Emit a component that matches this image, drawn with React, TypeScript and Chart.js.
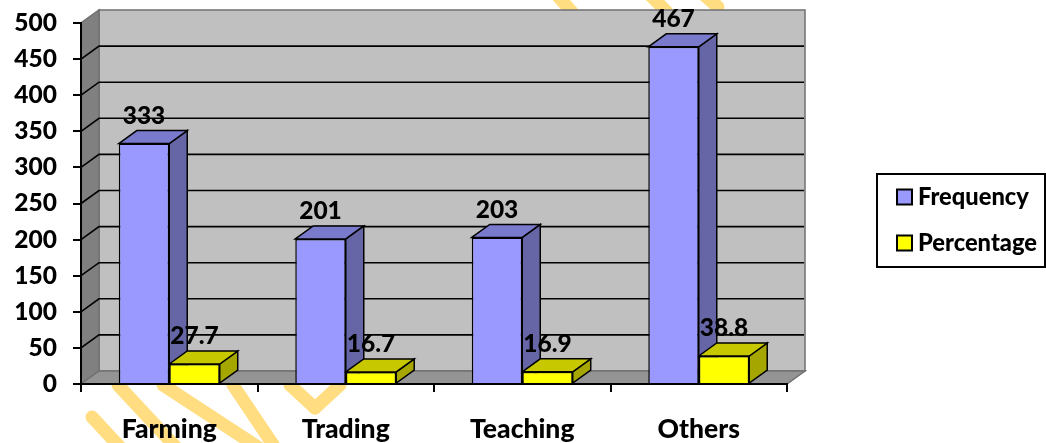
import React, { useEffect, useRef } from "react";
import { Chart, registerables } from "chart.js";

Chart.register(...registerables);

const categories = ["Farming", "Trading", "Teaching", "Others"];
const frequency = [333, 201, 203, 467];
const percentage = [27.7, 16.7, 16.9, 38.8];
const seriesNames = ["Frequency", "Percentage"];
const FONT = "Lato, Carlito, 'Open Sans', sans-serif";
const DX = 18;
const DY = 13;
const faces = [
  { front: "#9999FF", top: "#7A7ACC", side: "#6666A6" },
  { front: "#FFFF00", top: "#C8C800", side: "#A6A600" },
];
const watermark: number[][] = [
  [92, 417, 130, 458],
  [118, 385, 186, 458],
  [163, 385, 290, 468],
  [233, 385, 282, 458],
  [290, 385, 315, 408],
  [315, 408, 340, 385],
  [556, -6, 572, 12],
  [649, -6, 667, 12],
  [703, -6, 718, 7],
];

const scene = {
  id: "scene",
  beforeDraw(chart: any) {
    const { ctx, chartArea: a, scales } = chart;
    ctx.save();
    ctx.strokeStyle = "#FFDD80";
    ctx.lineWidth = 13;
    ctx.lineCap = "round";
    for (const [x1, y1, x2, y2] of watermark) {
      ctx.beginPath();
      ctx.moveTo(x1, y1);
      ctx.lineTo(x2, y2);
      ctx.stroke();
    }
    ctx.lineCap = "butt";
    const y0 = a.bottom;
    const yTop = a.top;
    ctx.lineWidth = 1.5;
    ctx.strokeStyle = "#707070";
    // back wall
    ctx.fillStyle = "#C0C0C0";
    ctx.fillRect(a.left + DX, yTop - DY, a.width, y0 - yTop);
    ctx.strokeRect(a.left + DX, yTop - DY, a.width, y0 - yTop);
    // side wall
    ctx.fillStyle = "#808080";
    ctx.beginPath();
    ctx.moveTo(a.left, y0);
    ctx.lineTo(a.left, yTop);
    ctx.lineTo(a.left + DX, yTop - DY);
    ctx.lineTo(a.left + DX, y0 - DY);
    ctx.closePath();
    ctx.fill();
    ctx.stroke();
    // floor
    ctx.fillStyle = "#949494";
    ctx.beginPath();
    ctx.moveTo(a.left, y0);
    ctx.lineTo(a.left + DX, y0 - DY);
    ctx.lineTo(a.right + DX, y0 - DY);
    ctx.lineTo(a.right, y0);
    ctx.closePath();
    ctx.fill();
    ctx.stroke();
    // grid
    ctx.strokeStyle = "#000";
    ctx.lineWidth = 1.6;
    scales.y.ticks.forEach((t: any) => {
      if (t.value === 0 || t.value === 500) return;
      const y = scales.y.getPixelForValue(t.value);
      ctx.beginPath();
      ctx.moveTo(a.left, y);
      ctx.lineTo(a.left + DX, y - DY);
      ctx.lineTo(a.right + DX - 1, y - DY);
      ctx.stroke();
    });
    // legend
    const lx = 877, ly = 174, lw = 168, lh = 93;
    ctx.fillStyle = "#fff";
    ctx.fillRect(lx, ly, lw, lh);
    ctx.strokeStyle = "#000";
    ctx.lineWidth = 2;
    ctx.strokeRect(lx, ly, lw, lh);
    ctx.font = `900 23.7px ${FONT}`;
    ctx.textBaseline = "middle";
    ctx.textAlign = "left";
    chart.data.datasets.forEach((d: any, i: number) => {
      const cy = 197 + i * 46;
      ctx.fillStyle = d.backgroundColor;
      ctx.fillRect(897, cy - 7.5, 15, 15);
      ctx.strokeRect(897, cy - 7.5, 15, 15);
      ctx.fillStyle = "#000";
      ctx.fillText(d.label, 918, cy);
    });
    ctx.restore();
  },
  beforeDatasetsDraw(chart: any) {
    const { ctx } = chart;
    ctx.save();
    ctx.strokeStyle = "#000";
    ctx.lineWidth = 1.5;
    chart.data.datasets.forEach((_: any, di: number) => {
      chart.getDatasetMeta(di).data.forEach((bar: any) => {
        const l = bar.x - bar.width / 2;
        const r = bar.x + bar.width / 2;
        const t = bar.y;
        const b = bar.base;
        ctx.fillStyle = faces[di].side;
        ctx.beginPath();
        ctx.moveTo(r, t);
        ctx.lineTo(r + DX, t - DY);
        ctx.lineTo(r + DX, b - DY);
        ctx.lineTo(r, b);
        ctx.closePath();
        ctx.fill();
        ctx.stroke();
        ctx.fillStyle = faces[di].top;
        ctx.beginPath();
        ctx.moveTo(l, t);
        ctx.lineTo(l + DX, t - DY);
        ctx.lineTo(r + DX, t - DY);
        ctx.lineTo(r, t);
        ctx.closePath();
        ctx.fill();
        ctx.stroke();
      });
    });
    ctx.restore();
  },
  afterDatasetsDraw(chart: any) {
    const { ctx } = chart;
    ctx.save();
    ctx.font = `900 24.5px ${FONT}`;
    ctx.fillStyle = "#000";
    ctx.textAlign = "center";
    ctx.textBaseline = "middle";
    chart.data.datasets.forEach((d: any, di: number) => {
      chart.getDatasetMeta(di).data.forEach((bar: any, i: number) => {
        ctx.fillText(String(d.data[i]), bar.x, bar.y - 27.5);
      });
    });
    ctx.restore();
  },
};

export default function App() {
  const ref = useRef<HTMLCanvasElement>(null);
  useEffect(() => {
    document.body.style.margin = "0";
    const chart = new Chart(ref.current!, {
      type: "bar",
      data: {
        labels: categories,
        datasets: [
          { label: seriesNames[0], data: frequency, backgroundColor: faces[0].front, borderColor: "#000", borderWidth: 1.5 },
          { label: seriesNames[1], data: percentage, backgroundColor: faces[1].front, borderColor: "#000", borderWidth: 1.5 },
        ],
      },
      options: {
        responsive: false,
        animation: false,
        layout: { padding: { top: 23, right: 259, left: 0, bottom: 0 } },
        datasets: { bar: { categoryPercentage: 0.572, barPercentage: 1 } },
        plugins: { legend: { display: false }, tooltip: { enabled: false } },
        scales: {
          x: {
            afterFit: (s: any) => { s.height = 59; s.paddingLeft = 0; s.paddingRight = 0; },
            border: { color: "#000", width: 2 },
            grid: { drawOnChartArea: false, color: "#000", lineWidth: 2, tickLength: 8 },
            ticks: { color: "#000", padding: 22, maxRotation: 0, font: { family: FONT, weight: "900", size: 26.5 } },
          },
          y: {
            min: 0,
            max: 500,
            afterFit: (s: any) => { s.width = 81; s.paddingTop = 0; s.paddingBottom = 0; },
            border: { color: "#000", width: 2 },
            grid: { drawOnChartArea: false, color: "#000", lineWidth: 2, tickLength: 8 },
            ticks: { stepSize: 50, color: "#000", padding: 16, font: { family: FONT, weight: "900", size: 24.5 } },
          },
        },
      },
      plugins: [scene],
    } as any);
    return () => chart.destroy();
  }, []);
  return <canvas ref={ref} width={1046} height={443} style={{ display: "block" }} />;
}
